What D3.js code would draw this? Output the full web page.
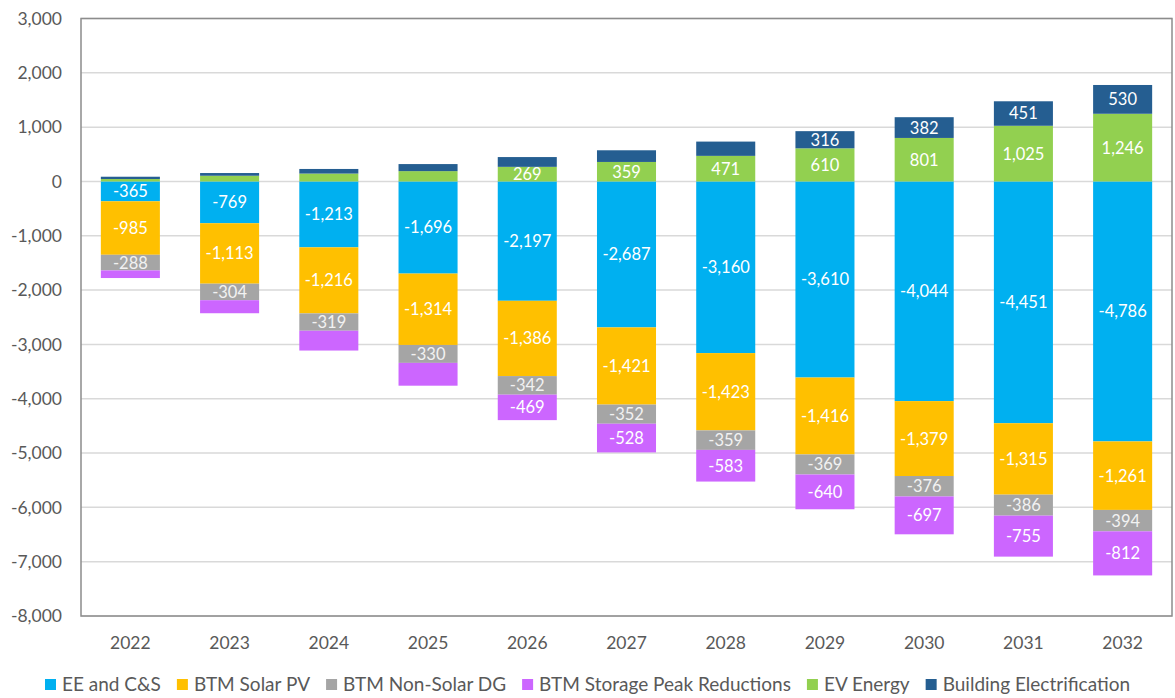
<!DOCTYPE html>
<html>
<head>
<meta charset="utf-8">
<script src="https://cdn.jsdelivr.net/npm/d3@7"></script>
<style>
  body { margin: 0; background: #fff; }
  text { font-family: Lato, "Open Sans", sans-serif; }
</style>
</head>
<body>
<div id="chart"></div>
<script>
var years = ["2022", "2023", "2024", "2025", "2026", "2027", "2028", "2029", "2030", "2031", "2032"];

var eeCS = [-365, -769, -1213, -1696, -2197, -2687, -3160, -3610, -4044, -4451, -4786];
var solarPV = [-985, -1113, -1216, -1314, -1386, -1421, -1423, -1416, -1379, -1315, -1261];
var nonSolarDG = [-288, -304, -319, -330, -342, -352, -359, -369, -376, -386, -394];
var storagePeak = [-140, -240, -365, -420, -469, -528, -583, -640, -697, -755, -812];
var evEnergy = [45, 105, 145, 190, 269, 359, 471, 610, 801, 1025, 1246];
var buildingElec = [42, 50, 85, 130, 180, 215, 263, 316, 382, 451, 530];

var seriesNames = ["EE and C&S", "BTM Solar PV", "BTM Non-Solar DG", "BTM Storage Peak Reductions", "EV Energy", "Building Electrification"];
var seriesValues = [eeCS, solarPV, nonSolarDG, storagePeak, evEnergy, buildingElec];
var seriesColors = ["#00B0F0", "#FFC000", "#A5A5A5", "#CC66FF", "#92D050", "#255E91"];
// first year that carries a data label, per series
var labelFrom = ["2022", "2022", "2022", "2026", "2026", "2029"];

var yTicks = [3000, 2000, 1000, 0, -1000, -2000, -3000, -4000, -5000, -6000, -7000, -8000];

var svgWidth = 1175;
var svgHeight = 698;
var margin = { top: 18.5, right: 3, bottom: 82, left: 81 };
var width = svgWidth - margin.left - margin.right;
var height = svgHeight - margin.top - margin.bottom;

// plain hyphen for negatives, like the original
var fmt = d3.formatLocale({ decimal: ".", thousands: ",", grouping: [3], currency: ["$", ""], minus: "-" }).format(",");

var svg = d3.select("#chart")
  .append("svg")
  .attr("width", svgWidth)
  .attr("height", svgHeight);

var chartGroup = svg.append("g")
  .attr("transform", `translate(${margin.left}, ${margin.top})`);

// build rows for the stack
var rows = years.map(function(y, i) {
  var row = { year: y };
  seriesNames.forEach(function(s, j) { row[s] = seriesValues[j][i]; });
  return row;
});

var stacked = d3.stack()
  .keys(seriesNames)
  .offset(d3.stackOffsetDiverging)(rows);

var xScale = d3.scaleBand()
  .domain(years)
  .range([0, width])
  .paddingInner(0.405)
  .paddingOuter(0.2);

var yScale = d3.scaleLinear()
  .domain([-8000, 3000])
  .range([height, 0]);

// gridlines
chartGroup.append("g")
  .selectAll("line")
  .data(yTicks)
  .enter()
  .append("line")
  .attr("x1", 0)
  .attr("x2", width)
  .attr("y1", d => yScale(d))
  .attr("y2", d => yScale(d))
  .attr("stroke", "#d9d9d9")
  .attr("stroke-width", 1.5);

// bars
var layers = chartGroup.selectAll("g.layer")
  .data(stacked)
  .enter()
  .append("g")
  .attr("class", "layer")
  .attr("fill", (d, i) => seriesColors[i]);

layers.selectAll("rect")
  .data(d => d)
  .enter()
  .append("rect")
  .attr("x", d => xScale(d.data.year))
  .attr("width", xScale.bandwidth())
  .attr("y", d => yScale(Math.max(d[0], d[1])))
  .attr("height", d => Math.abs(yScale(d[0]) - yScale(d[1])));

// data labels
layers.each(function(layer, i) {
  var fromIdx = years.indexOf(labelFrom[i]);
  d3.select(this).selectAll("text")
    .data(layer.filter((d, k) => k >= fromIdx))
    .enter()
    .append("text")
    .attr("x", d => xScale(d.data.year) + xScale.bandwidth() / 2)
    .attr("y", d => (yScale(d[0]) + yScale(d[1])) / 2)
    .attr("dy", "0.36em")
    .attr("text-anchor", "middle")
    .attr("fill", i == 2 ? "#f2f2f2" : "#ffffff")
    .attr("font-size", "16.5px")
    .text(d => fmt(d.data[layer.key]));
});

// plot border
chartGroup.append("rect")
  .attr("x", 0)
  .attr("y", 0)
  .attr("width", width)
  .attr("height", height)
  .attr("fill", "none")
  .attr("stroke", "#8c8c8c")
  .attr("stroke-width", 1.5);

// y axis labels
chartGroup.append("g")
  .selectAll("text")
  .data(yTicks)
  .enter()
  .append("text")
  .attr("x", -19)
  .attr("y", d => yScale(d))
  .attr("dy", "0.36em")
  .attr("text-anchor", "end")
  .attr("fill", "#595959")
  .attr("font-size", "17.5px")
  .text(d => fmt(d));

// x axis labels
chartGroup.append("g")
  .selectAll("text")
  .data(years)
  .enter()
  .append("text")
  .attr("x", d => xScale(d) + xScale.bandwidth() / 2)
  .attr("y", height + 33)
  .attr("text-anchor", "middle")
  .attr("fill", "#595959")
  .attr("font-size", "17.5px")
  .text(d => d);

// legend
var legend = svg.append("g")
  .attr("transform", "translate(45, 684)");

var xPos = 0;
seriesNames.forEach(function(name, i) {
  var item = legend.append("g").attr("transform", `translate(${xPos}, 0)`);
  item.append("rect")
    .attr("x", 0)
    .attr("y", -5)
    .attr("width", 11)
    .attr("height", 11)
    .attr("fill", seriesColors[i]);
  var t = item.append("text")
    .attr("x", 17)
    .attr("y", 0)
    .attr("dy", "0.36em")
    .attr("fill", "#595959")
    .attr("font-size", "19px")
    .text(name);
  xPos += 17 + t.node().getComputedTextLength() + 16;
});
</script>
</body>
</html>
